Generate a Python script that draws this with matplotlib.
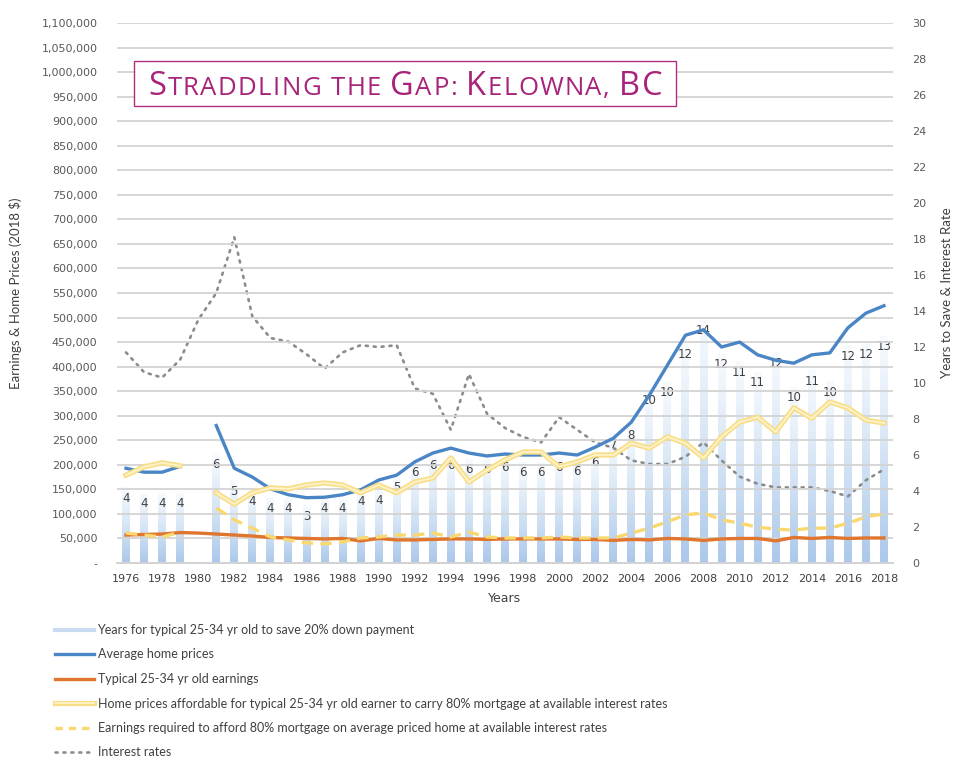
import numpy as np
import matplotlib
matplotlib.use("Agg")
import matplotlib.pyplot as plt
import matplotlib.patheffects as pe
from matplotlib.lines import Line2D
from matplotlib.patches import Rectangle
from matplotlib.colors import LinearSegmentedColormap

nan = np.nan
years = list(range(1976, 2019))

years_to_save = [4.2, 3.9, 3.9, 3.9, nan,
                 6.1, 4.6, 4.0, 3.6, 3.6, 3.2, 3.6, 3.6, 4.0, 4.1,
                 4.8, 5.6, 6.0, 6.0, 5.8, 5.8, 5.9, 5.6, 5.6, 5.9,
                 5.7, 6.2, 7.2, 7.7, 9.6, 10.1, 12.2, 13.5, 11.6, 11.2,
                 10.6, 11.7, 9.8, 10.7, 10.1, 12.1, 12.2, 12.6]

avg_home_price = [193, 185, 185, 197, nan,
                  280, 193, 175, 151, 139, 133, 134, 139, 149, 169,
                  179, 206, 224, 234, 224, 218, 222, 220, 220, 224,
                  220, 236, 254, 287, 342, 403, 464, 475, 440, 450,
                  424, 413, 407, 424, 428, 479, 509, 524]

earnings = [57, 58, 59, 62, 61,
            59, 57, 55, 52, 51, 50, 49, 50, 45, 50,
            47, 47, 48, 49, 49, 48, 49, 49, 49, 49,
            48, 48, 46, 48, 47, 50, 49, 46, 49, 50,
            50, 45, 52, 50, 52, 50, 51, 51]

affordable_price = [179, 196, 204, 198, nan,
                    143, 120, 143, 153, 151, 159, 163, 159, 143, 159,
                    143, 165, 173, 214, 165, 189, 210, 226, 226, 196,
                    206, 220, 220, 244, 234, 257, 244, 214, 257, 287,
                    297, 267, 316, 295, 328, 316, 291, 285]

required_earnings = [61, 57, 53, 63, nan,
                     112, 88, 71, 53, 47, 41, 39, 43, 51, 53,
                     57, 57, 61, 53, 63, 53, 51, 51, 51, 53,
                     51, 51, 51, 61, 71, 84, 98, 102, 88, 81,
                     73, 69, 67, 71, 71, 81, 94, 100]

interest_rate = [11.7, 10.6, 10.3, 11.3, 13.5,
                 15.0, 18.1, 13.7, 12.5, 12.3, 11.6, 10.8, 11.7, 12.1, 12.0,
                 12.1, 9.7, 9.4, 7.4, 10.5, 8.3, 7.5, 7.0, 6.7, 8.1,
                 7.4, 6.7, 6.4, 5.7, 5.5, 5.5, 5.9, 6.7, 5.7, 4.8,
                 4.4, 4.2, 4.2, 4.2, 4.0, 3.7, 4.6, 5.2]

legend_labels = [
    "Years for typical 25-34 yr old to save 20% down payment",
    "Average home prices",
    "Typical 25-34 yr old earnings",
    "Home prices affordable for typical 25-34 yr old earner to carry 80% mortgage at available interest rates",
    "Earnings required to afford 80% mortgage on average priced home at available interest rates",
    "Interest rates",
]
title_pieces = [("S", "big"), ("TRADDLING", "small"), (" ", "small"), ("THE", "small"),
                (" ", "small"), ("G", "big"), ("AP:", "small"), (" ", "small"),
                ("K", "big"), ("ELOWNA,", "small"), (" ", "small"), ("BC", "big")]

W, H = 960, 772
fig = plt.figure(figsize=(W / 100, H / 100), dpi=100)
fig.patch.set_facecolor("white")

x = np.array(years, dtype=float)
money_scale = 1000.0
left_max = 1_100_000
right_max = 30

axL = fig.add_axes([117 / W, 1 - 563 / H, 776 / W, 540 / H])
axR = axL.twinx()
axL.set_zorder(2)
axR.set_zorder(1)
axL.patch.set_visible(False)

# ---- bars with vertical gradient (right axis)
cmap = LinearSegmentedColormap.from_list("barg", ["#F8FBFE", "#D6E5F5", "#ABC8EA"])
grad = np.linspace(0, 1, 256).reshape(-1, 1)
bars = axR.bar(x, years_to_save, width=0.44, facecolor="none", edgecolor="none")
for rect, v in zip(bars, years_to_save):
    if np.isnan(v):
        continue
    x0 = rect.get_x()
    im = axR.imshow(grad, cmap=cmap, aspect="auto", origin="upper",
                    extent=[x0, x0 + rect.get_width(), 0, v], zorder=1,
                    interpolation="bicubic")
    im.set_clip_path(rect)
for xi, v in zip(x, years_to_save):
    if np.isnan(v):
        continue
    axR.text(xi, v - 0.6, f"{v:.0f}", ha="center", va="center", fontsize=8.5,
             color="#404040", zorder=3)

# interest rates (right axis)
axR.plot(x, interest_rate, color="#8C8C8C", lw=1.9, linestyle=(0, (0.8, 2.2)),
         dash_capstyle="round", zorder=4)

# ---- money lines (left axis)
yellow_fx = [pe.Stroke(linewidth=3.8, foreground="#F9DE88"), pe.Normal()]
axL.plot(x, np.array(avg_home_price) * money_scale, color="#4A86C5", lw=2.4, zorder=5)
axL.plot(x, np.array(earnings) * money_scale, color="#E0752D", lw=2.4, zorder=5)
axL.plot(x, np.array(affordable_price) * money_scale, color="#FEF3CC", lw=1.3,
         path_effects=yellow_fx, zorder=5)
axL.plot(x, np.array(required_earnings) * money_scale, color="#F9D870", lw=2.4,
         dashes=(3.4, 2.2), zorder=6)

# ---- axes styling
axL.set_xlim(1975.5, 2018.5)
axR.set_xlim(1975.5, 2018.5)
axL.set_ylim(0, left_max)
axR.set_ylim(0, right_max)

lt = np.arange(0, left_max + 1, 50_000)
axL.set_yticks(lt)
axL.set_yticklabels(["-" if v == 0 else f"{v:,.0f}" for v in lt])
axL.grid(axis="y", color="#D3D3D3", lw=1.3, zorder=0)
axL.set_axisbelow(True)
axR.set_yticks(np.arange(0, right_max + 1, 2))
axL.set_xticks(np.arange(1976, 2019, 2))

for ax in (axL, axR):
    for s in ("top", "left", "right"):
        ax.spines[s].set_visible(False)
    ax.spines["bottom"].set_color("#D3D3D3")
    ax.spines["bottom"].set_linewidth(1.3)

axL.tick_params(axis="y", length=0, pad=14, labelsize=8, labelcolor="#595959")
axR.tick_params(axis="y", length=0, pad=14, labelsize=8, labelcolor="#595959")
axL.tick_params(axis="x", length=0, pad=8, labelsize=8, labelcolor="#404040")
axR.tick_params(axis="x", length=0, labelbottom=False)

lab_font = ["Lato", "DejaVu Sans"]
axL.set_xlabel("Years", fontsize=9, color="#404040", labelpad=6)
axL.set_ylabel("Earnings & Home Prices (2018 $)", fontsize=9.5, color="#404040",
               family=lab_font, labelpad=14)
axR.set_ylabel("Years to Save & Interest Rate", fontsize=9.5, color="#404040",
               family=lab_font, labelpad=10)

# ---- legend
handles = [
    Line2D([], [], color="#C9DBF1", lw=3),
    Line2D([], [], color="#4A86C5", lw=2.4),
    Line2D([], [], color="#E0752D", lw=2.4),
    Line2D([], [], color="#FEF3CC", lw=1.3, path_effects=yellow_fx),
    Line2D([], [], color="#F9D870", lw=2.4, dashes=(2.2, 1.8)),
    Line2D([], [], color="#8C8C8C", lw=1.9, linestyle=(0, (0.8, 2.2)), dash_capstyle="round"),
]
fig.legend(handles, legend_labels, loc="upper left",
           bbox_to_anchor=(55 / W, 1 - 624 / H), frameon=False,
           prop={"family": ["Lato", "DejaVu Sans"], "size": 9},
           labelcolor="#404040", handlelength=3.1, handletextpad=0.3,
           labelspacing=1.0, borderaxespad=0, borderpad=0)

# ---- title box with small caps (letter by letter, tracked to fill the box)
fig.patches.append(Rectangle((134 / W, 1 - 106 / H), (676 - 134) / W, 45 / H,
                             transform=fig.transFigure, facecolor="white",
                             edgecolor="#B0307F", lw=1.0, zorder=5))
sizes = {"big": 23.5, "small": 18.5}
tcolor = "#A8237A"
tfont = ["Open Sans", "DejaVu Sans"]
renderer = fig.canvas.get_renderer()


def advance(ch, size):
    t1 = fig.text(0, 0, "H" + ch + "H", fontsize=size, family=tfont)
    t2 = fig.text(0, 0, "HH", fontsize=size, family=tfont)
    w = t1.get_window_extent(renderer).width - t2.get_window_extent(renderer).width
    t1.remove(); t2.remove()
    return w


glyphs = []
for s, kind in title_pieces:
    for ch in s:
        glyphs.append((ch, sizes[kind]))
advs = [advance(ch, sz) for ch, sz in glyphs]
target = 514.0
track = (target - sum(advs)) / (len(glyphs) - 1)
xpos = 405 - target / 2
for (ch, sz), a in zip(glyphs, advs):
    if ch != " ":
        fig.text(xpos / W, 1 - 95 / H, ch, fontsize=sz, family=tfont, color=tcolor,
                 ha="left", va="baseline", zorder=6)
    xpos += a + track

fig.savefig("out.png", dpi=100, facecolor="white")
